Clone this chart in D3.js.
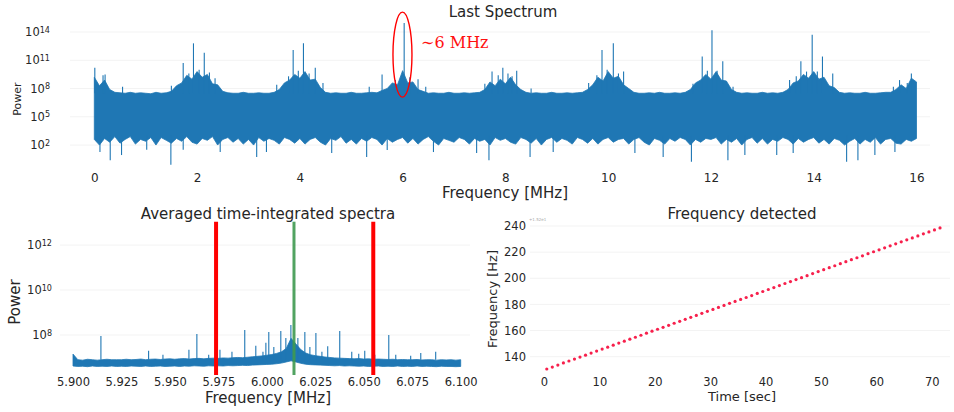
<!DOCTYPE html>
<html>
<head>
<meta charset="utf-8">
<script src="https://cdn.jsdelivr.net/npm/d3@7"></script>
<style>
  body { margin: 0; background: #fff; }
  text { font-family: "DejaVu Sans", sans-serif; fill: #262626; }
</style>
</head>
<body>
<svg id="chart" width="954" height="412"></svg>
<script>

// DATA (all powers are log10 values)

// Last spectrum: envelope of the noise band, one value every 0.1 MHz from 0 to 16
var topStep = 0.1;
var topHi = [
  9.2, 8.3, 8.9, 7.9, 7.6, 7.55, 7.5, 7.6, 7.5, 7.55,
  7.5, 7.45, 7.6, 7.5, 7.55, 7.7, 8.3, 8.6, 9.4, 9.0,
  9.8, 9.2, 9.5, 8.5, 8.4, 7.7, 7.55, 7.5, 7.5, 7.6,
  7.5, 7.5, 7.55, 7.5, 7.5, 7.6, 7.9, 8.6, 8.9, 9.5,
  9.1, 9.8, 8.9, 9.0, 8.1, 7.6, 7.5, 7.55, 7.5, 7.5,
  7.6, 7.5, 7.5, 7.55, 7.6, 7.55, 7.8, 8.0, 8.6, 8.4,
  9.9, 8.6, 8.7, 7.9, 7.7, 7.5, 7.55, 7.5, 7.5, 7.6,
  7.5, 7.5, 7.55, 7.5, 7.55, 7.6, 7.9, 8.7, 8.3, 9.0,
  8.5, 9.2, 8.4, 7.9, 7.6, 7.5, 7.55, 7.5, 7.5, 7.6,
  7.5, 7.5, 7.55, 7.5, 7.55, 7.6, 7.9, 8.4, 9.2, 8.8,
  9.8, 9.1, 9.3, 8.4, 8.0, 7.6, 7.5, 7.5, 7.55, 7.5,
  7.6, 7.5, 7.5, 7.55, 7.5, 7.6, 7.9, 8.6, 8.9, 9.5,
  9.0, 9.8, 8.9, 8.8, 7.9, 7.6, 7.5, 7.55, 7.5, 7.5,
  7.6, 7.5, 7.55, 7.5, 7.6, 7.9, 8.6, 8.8, 9.5, 9.1,
  9.8, 9.0, 9.2, 8.3, 8.1, 7.6, 7.5, 7.55, 7.5, 7.5,
  7.6, 7.5, 7.5, 7.55, 7.6, 7.6, 7.9, 8.4, 8.0, 9.1,
  8.7
];
var topLo = [
  2.6, 2.0, 2.7, 2.3, 2.9, 2.2, 2.6, 2.9, 2.1, 2.6,
  2.4, 2.8, 2.0, 2.8, 2.5, 2.2, 2.7, 2.4, 2.9, 2.3,
  2.1, 2.7, 2.5, 2.9, 2.0, 2.6, 2.8, 2.3, 2.7, 2.1,
  2.6, 2.0, 2.8, 2.4, 2.7, 2.5, 2.1, 2.8, 2.6, 2.2,
  2.7, 2.1, 2.6, 2.8, 2.3, 2.0, 2.7, 2.5, 2.9, 2.2,
  2.6, 2.1, 2.7, 2.4, 2.8, 2.6, 2.0, 2.7, 2.3, 2.6,
  2.8, 2.2, 2.7, 2.1, 2.6, 2.9, 2.4, 2.0, 2.7, 2.5,
  2.3, 2.8, 2.6, 2.1, 2.7, 2.4, 2.6, 2.0, 2.8, 2.5,
  2.7, 2.3, 2.1, 2.8, 2.6, 2.2, 2.7, 2.0, 2.6, 2.8,
  2.3, 2.7, 2.5, 2.1, 2.8, 2.6, 2.2, 2.7, 2.1, 2.6,
  2.8, 2.3, 2.6, 2.7, 2.1, 2.6, 2.8, 2.3, 2.0, 2.7,
  2.5, 2.1, 2.7, 2.4, 2.8, 2.6, 2.0, 2.6, 2.3, 2.7,
  2.6, 2.8, 2.1, 2.6, 2.3, 2.7, 2.0, 2.6, 2.8, 2.2,
  2.7, 2.1, 2.6, 2.4, 2.8, 2.6, 2.1, 2.7, 2.3, 2.6,
  2.8, 2.2, 2.6, 2.1, 2.7, 2.5, 2.0, 2.4, 2.7, 2.1,
  2.6, 2.3, 2.8, 2.1, 2.6, 2.7, 2.2, 2.1, 2.6, 2.4,
  2.7
];

// Narrow peaks above the band [MHz, log10 power]
var topPeaks = [
  [0.01, 10.2], [0.17, 9.4], [0.21, 9.5], [0.55, 8.2],
  [1.50, 8.3], [1.73, 10.7], [1.84, 9.6], [1.93, 12.8], [2.04, 10.0], [2.14, 11.8], [2.24, 9.7], [2.35, 9.1],
  [3.55, 8.4], [3.78, 9.3], [3.87, 12.1], [3.97, 9.9], [4.07, 12.8], [4.18, 9.6], [4.30, 10.2], [4.45, 8.6],
  [5.35, 8.2], [5.60, 9.5], [5.86, 8.9], [6.03, 14.95], [6.14, 9.2], [6.30, 9.0], [6.45, 8.2],
  [7.60, 8.5], [7.74, 9.8], [7.86, 9.4], [7.95, 10.2], [8.05, 9.6], [8.13, 9.3], [8.22, 9.9], [8.50, 8.0],
  [9.62, 8.6], [9.78, 9.4], [9.88, 12.1], [9.98, 10.0], [10.10, 12.8], [10.20, 9.6], [10.30, 9.8],
  [11.65, 8.5], [11.83, 11.4], [11.93, 9.9], [12.02, 14.2], [12.12, 9.9], [12.23, 10.9], [12.43, 8.2],
  [13.53, 8.9], [13.66, 9.3], [13.75, 10.9], [13.86, 9.8], [13.97, 13.7], [14.07, 9.8], [14.17, 11.4], [14.37, 9.6],
  [15.55, 8.2], [15.67, 8.9], [15.82, 8.6], [15.90, 9.6]
];

// Narrow dips below the band [MHz, log10 power]
var topDips = [
  [0.11, 1.27], [0.31, 0.4], [0.53, 0.94], [1.02, 1.5], [1.49, -0.1],
  [1.73, 1.5], [2.45, 1.27], [3.16, 0.73], [3.35, 1.27], [4.62, 1.15],
  [5.30, 0.73], [5.70, 1.47], [6.60, 1.26], [7.44, 1.15], [7.68, 0.4],
  [8.48, 0.73], [8.93, 1.26], [10.52, 1.15], [11.07, 0.73], [11.62, 0.23],
  [12.33, 0.4], [12.66, 0.94], [13.28, 0.94], [13.60, 1.15], [14.64, 0.23],
  [14.86, 0.4], [15.19, 0.94], [15.58, 1.26]
];
var topYTicks = [2, 5, 8, 11, 14];
var topXTicks = [0, 2, 4, 6, 8, 10, 12, 14, 16];

// Averaged spectrum: band envelope every 0.0025 MHz from 5.900 to 6.100
var avgStart = 5.9;
var avgStep = 0.0025;
var avgHi = [
  7.15, 6.9, 6.88, 6.92, 6.9, 6.88, 6.9, 6.92, 6.9, 6.9,
  6.9, 6.92, 6.9, 6.91, 6.93, 6.9, 6.92, 6.93, 6.91, 6.93,
  6.94, 6.92, 6.94, 6.95, 6.93, 6.95, 6.96, 6.94, 6.96, 6.97,
  6.96, 6.98, 6.97, 6.99, 7.0, 6.99, 7.01, 7.03, 7.05, 7.07,
  7.1, 7.13, 7.18, 7.25, 7.4, 7.85, 7.6, 7.35, 7.2, 7.12,
  7.08, 7.05, 7.02, 7.0, 6.98, 6.97, 6.96, 6.95, 6.94, 6.95,
  6.93, 6.94, 6.92, 6.93, 6.92, 6.91, 6.92, 6.9, 6.91, 6.9,
  6.9, 6.91, 6.89, 6.9, 6.9, 6.88, 6.9, 6.89, 6.9, 6.88,
  6.9
];
var avgLo = [
  6.62, 6.6, 6.61, 6.59, 6.62, 6.6, 6.61, 6.6, 6.62, 6.6,
  6.61, 6.6, 6.62, 6.61, 6.6, 6.62, 6.6, 6.61, 6.62, 6.6,
  6.61, 6.62, 6.6, 6.62, 6.61, 6.63, 6.62, 6.61, 6.63, 6.62,
  6.63, 6.62, 6.64, 6.63, 6.64, 6.65, 6.64, 6.66, 6.67, 6.68,
  6.69, 6.7, 6.72, 6.75, 6.8, 6.85, 6.8, 6.74, 6.7, 6.68,
  6.67, 6.66, 6.65, 6.64, 6.63, 6.64, 6.62, 6.63, 6.62, 6.61,
  6.62, 6.6, 6.61, 6.62, 6.6, 6.61, 6.6, 6.62, 6.6, 6.61,
  6.6, 6.62, 6.6, 6.61, 6.6, 6.59, 6.61, 6.6, 6.6, 6.59,
  6.6
];
var avgPeaks = [
  [5.9144, 7.96], [5.9390, 7.3], [5.9464, 7.12], [5.9598, 7.34], [5.9639, 8.04],
  [5.9700, 7.12], [5.9758, 7.34], [5.9820, 7.25], [5.9886, 8.22], [5.9943, 7.52],
  [5.9980, 7.25], [5.9995, 7.65], [6.0010, 8.13], [6.0036, 7.47], [6.0072, 8.18],
  [6.0098, 7.87], [6.0124, 8.44], [6.0160, 7.87], [6.0196, 8.13], [6.0222, 7.47],
  [6.0253, 8.09], [6.0284, 7.25], [6.0314, 7.5], [6.0376, 8.18], [6.0438, 7.25],
  [6.0474, 7.16], [6.0505, 7.3], [6.0557, 7.12], [6.0629, 8.0], [6.0665, 7.12],
  [6.0742, 7.08], [6.0794, 7.2], [6.0871, 7.25]
];
var avgBounds = [5.9738, 6.0549];   // red window
var avgDetected = 6.0140;           // green line
var avgYTicks = [8, 10, 12];
var avgXTicks = [5.900, 5.925, 5.950, 5.975, 6.000, 6.025, 6.050, 6.075, 6.100];

// Frequency detected, one dot per second
var detTimes = [
  0.5, 1.5, 2.5, 3.5, 4.5, 5.5, 6.5, 7.5, 8.5, 9.5,
  10.5, 11.5, 12.5, 13.5, 14.5, 15.5, 16.5, 17.5, 18.5, 19.5,
  20.5, 21.5, 22.5, 23.5, 24.5, 25.5, 26.5, 27.5, 28.5, 29.5,
  30.5, 31.5, 32.5, 33.5, 34.5, 35.5, 36.5, 37.5, 38.5, 39.5,
  40.5, 41.5, 42.5, 43.5, 44.5, 45.5, 46.5, 47.5, 48.5, 49.5,
  50.5, 51.5, 52.5, 53.5, 54.5, 55.5, 56.5, 57.5, 58.5, 59.5,
  60.5, 61.5, 62.5, 63.5, 64.5, 65.5, 66.5, 67.5, 68.5, 69.5,
  70.5, 71.5
];
var detFreqs = [
  130.6, 132.1, 133.6, 135.2, 136.7, 138.2, 139.7, 141.2, 142.8, 144.3,
  145.8, 147.3, 148.8, 150.4, 151.9, 153.4, 154.9, 156.4, 158.0, 159.5,
  161.0, 162.5, 164.0, 165.6, 167.1, 168.6, 170.1, 171.6, 173.2, 174.7,
  176.2, 177.7, 179.2, 180.8, 182.3, 183.8, 185.3, 186.8, 188.4, 189.9,
  191.4, 192.9, 194.4, 196.0, 197.5, 199.0, 200.5, 202.0, 203.6, 205.1,
  206.6, 208.1, 209.6, 211.2, 212.7, 214.2, 215.7, 217.2, 218.8, 220.3,
  221.8, 223.3, 224.8, 226.4, 227.9, 229.4, 230.9, 232.4, 234.0, 235.5,
  237.0, 238.5
];
var detYTicks = [140, 160, 180, 200, 220, 240];
var detXTicks = [0, 10, 20, 30, 40, 50, 60, 70];


// Global styling
var blue = "#1f77b4";
var svg = d3.select("#chart");
svg.append("rect").attr("width", 954).attr("height", 412).attr("fill", "#fff");

function p10(v) { return Math.pow(10, v); }

// Axis helper: strip lines, restyle labels
function styleAxis(g, size) {
  g.select(".domain").remove();
  g.selectAll("line").remove();
  g.attr("font-family", null).attr("font-size", null);
  g.selectAll("text").style("font-size", size + "px").attr("fill", "#262626");
}

// Turn "10" labels into 10^n with a superscript
function powerLabels(g, size) {
  g.selectAll("text").each(function (d) {
    var t = d3.select(this).text("");
    t.append("tspan").text("10");
    t.append("tspan").attr("dy", "-0.45em").style("font-size", (size * 0.7) + "px").text(Math.round(Math.log10(d)));
  });
}

function grid(g, ys, x0, x1) {
  g.selectAll(null).data(ys).enter().append("line")
    .attr("x1", x0).attr("x2", x1)
    .attr("y1", function (d) { return d; }).attr("y2", function (d) { return d; })
    .attr("stroke", "#f3f3f3").attr("stroke-width", 1);
}



// TOP: LAST SPECTRUM



var xTop = d3.scaleLinear().domain([0, 16]).range([94.3, 916.5]);
var yTop = d3.scaleLog().domain([1, p10(15.5)]).range([163.9, 17.9]);
var gTop = svg.append("g");

grid(gTop, topYTicks.map(function (d) { return yTop(p10(d)); }), 70, 930);

var topArea = d3.area()
  .x(function (d, i) { return xTop(i * topStep); })
  .y0(function (d, i) { return yTop(p10(topLo[i])); })
  .y1(function (d) { return yTop(p10(d)); });

gTop.append("path").datum(topHi)
  .attr("d", topArea).attr("fill", blue).attr("stroke", blue).attr("stroke-width", 0.8);

gTop.selectAll(".peak").data(topPeaks).enter().append("line")
  .attr("x1", function (d) { return xTop(d[0]); }).attr("x2", function (d) { return xTop(d[0]); })
  .attr("y1", yTop(p10(7.5))).attr("y2", function (d) { return yTop(p10(d[1])); })
  .attr("stroke", blue).attr("stroke-width", 1.1);

gTop.selectAll(".dip").data(topDips).enter().append("line")
  .attr("x1", function (d) { return xTop(d[0]); }).attr("x2", function (d) { return xTop(d[0]); })
  .attr("y1", yTop(p10(3))).attr("y2", function (d) { return yTop(p10(d[1])); })
  .attr("stroke", blue).attr("stroke-width", 1.1);

var gTopX = gTop.append("g").attr("transform", "translate(0,173)")
  .call(d3.axisBottom(xTop).tickValues(topXTicks).tickSize(0).tickPadding(0).tickFormat(d3.format("d")));
styleAxis(gTopX, 12);

var gTopY = gTop.append("g").attr("transform", "translate(50,0)")
  .call(d3.axisLeft(yTop).tickValues(topYTicks.map(p10)).tickSize(0).tickPadding(0));
styleAxis(gTopY, 11.5);
powerLabels(gTopY, 11.5);

// ~6 MHz annotation
gTop.append("ellipse")
  .attr("cx", xTop(5.997)).attr("cy", yTop(p10(11.6)))
  .attr("rx", 9.5).attr("ry", 42.5)
  .attr("fill", "none").attr("stroke", "#ff0000").attr("stroke-width", 1.4);
gTop.append("text")
  .attr("x", xTop(6.36)).attr("y", yTop(p10(12.3)))
  .style("font-family", "'DejaVu Serif', serif").style("font-size", "16px")
  .style("fill", "#ff1010")
  .text("∼6 MHz");

gTop.append("text").attr("x", 503).attr("y", 17).attr("text-anchor", "middle")
  .style("font-size", "15px").text("Last Spectrum");
gTop.append("text").attr("x", 505).attr("y", 198).attr("text-anchor", "middle")
  .style("font-size", "15px").text("Frequency [MHz]");
gTop.append("text").attr("transform", "translate(21,99) rotate(-90)").attr("text-anchor", "middle")
  .style("font-size", "11px").text("Power");



// BOTTOM LEFT: AVERAGED SPECTRA



var xAvg = d3.scaleLinear().domain([5.9, 6.1]).range([73, 460.7]);
var yAvg = d3.scaleLog().domain([p10(6.22), p10(13.04)]).range([375, 221.7]);
var gAvg = svg.append("g");

grid(gAvg, avgYTicks.map(function (d) { return yAvg(p10(d)); }), 60, 470);

var avgArea = d3.area()
  .x(function (d, i) { return xAvg(avgStart + i * avgStep); })
  .y0(function (d, i) { return yAvg(p10(avgLo[i])); })
  .y1(function (d) { return yAvg(p10(d)); });

gAvg.append("path").datum(avgHi)
  .attr("d", avgArea).attr("fill", blue).attr("stroke", blue).attr("stroke-width", 0.8);

gAvg.selectAll(".peak").data(avgPeaks).enter().append("line")
  .attr("x1", function (d) { return xAvg(d[0]); }).attr("x2", function (d) { return xAvg(d[0]); })
  .attr("y1", yAvg(p10(6.9))).attr("y2", function (d) { return yAvg(p10(d[1])); })
  .attr("stroke", blue).attr("stroke-width", 1.1);

gAvg.selectAll(".bound").data(avgBounds).enter().append("line")
  .attr("x1", function (d) { return xAvg(d); }).attr("x2", function (d) { return xAvg(d); })
  .attr("y1", yAvg.range()[0]).attr("y2", yAvg.range()[1])
  .attr("stroke", "#ff0000").attr("stroke-width", 4);

gAvg.append("line")
  .attr("x1", xAvg(avgDetected)).attr("x2", xAvg(avgDetected))
  .attr("y1", yAvg.range()[0]).attr("y2", yAvg.range()[1])
  .attr("stroke", "#3f9a50").attr("stroke-width", 3).attr("opacity", 0.9);

var gAvgX = gAvg.append("g").attr("transform", "translate(0,378)")
  .call(d3.axisBottom(xAvg).tickValues(avgXTicks).tickSize(0).tickPadding(0).tickFormat(d3.format(".3f")));
styleAxis(gAvgX, 11.5);

var gAvgY = gAvg.append("g").attr("transform", "translate(52,0)")
  .call(d3.axisLeft(yAvg).tickValues(avgYTicks.map(p10)).tickSize(0).tickPadding(0));
styleAxis(gAvgY, 11.5);
powerLabels(gAvgY, 11.5);

gAvg.append("text").attr("x", 268).attr("y", 219).attr("text-anchor", "middle")
  .style("font-size", "15px").text("Averaged time-integrated spectra");
gAvg.append("text").attr("x", 268).attr("y", 403).attr("text-anchor", "middle")
  .style("font-size", "15px").text("Frequency [MHz]");
gAvg.append("text").attr("transform", "translate(20,302) rotate(-90)").attr("text-anchor", "middle")
  .style("font-size", "15px").text("Power");



// BOTTOM RIGHT: FREQUENCY DETECTED



var xDet = d3.scaleLinear().domain([0, 70]).range([544, 931.7]);
var yDet = d3.scaleLinear().domain([140, 240]).range([356.7, 226]);
var gDet = svg.append("g");

grid(gDet, detYTicks.map(function (d) { return yDet(d); }), 530, 950);

gDet.selectAll(".dot").data(detTimes).enter().append("circle")
  .attr("cx", function (d) { return xDet(d); })
  .attr("cy", function (d, i) { return yDet(detFreqs[i]); })
  .attr("r", 1.6).attr("fill", "#f7204c");

var gDetX = gDet.append("g").attr("transform", "translate(0,378)")
  .call(d3.axisBottom(xDet).tickValues(detXTicks).tickSize(0).tickPadding(0).tickFormat(d3.format("d")));
styleAxis(gDetX, 11.5);

var gDetY = gDet.append("g").attr("transform", "translate(526,0)")
  .call(d3.axisLeft(yDet).tickValues(detYTicks).tickSize(0).tickPadding(0).tickFormat(d3.format("d")));
styleAxis(gDetY, 11.5);

// tiny offset label above the y axis
gDet.append("text").attr("x", 529).attr("y", 221)
  .style("font-size", "4px").style("fill", "#aaa").text("+1.52e1");

gDet.append("text").attr("x", 742).attr("y", 219).attr("text-anchor", "middle")
  .style("font-size", "15px").text("Frequency detected");
gDet.append("text").attr("x", 742).attr("y", 401).attr("text-anchor", "middle")
  .style("font-size", "13px").text("Time [sec]");
gDet.append("text").attr("transform", "translate(497,299) rotate(-90)").attr("text-anchor", "middle")
  .style("font-size", "13px").text("Frequency [Hz]");

</script>
</body>
</html>
